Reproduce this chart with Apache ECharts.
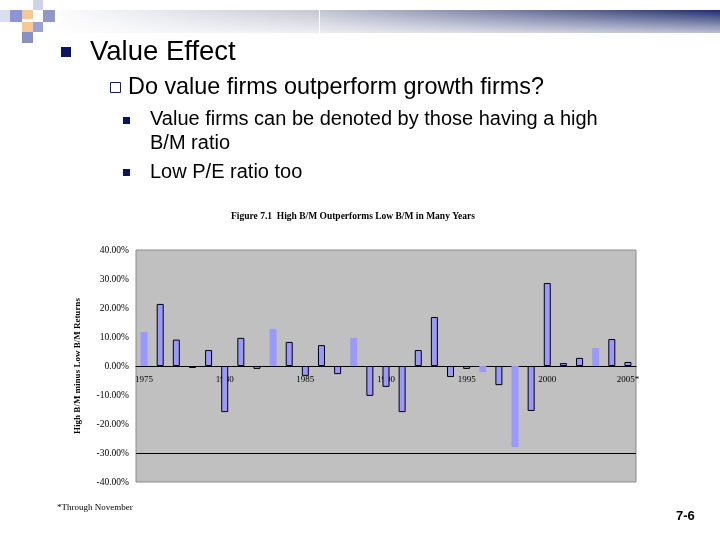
<!DOCTYPE html>
<html>
<head>
<meta charset="utf-8">
<script src="https://cdn.jsdelivr.net/npm/echarts@6/dist/echarts.min.js"></script>
<style>
html, body { margin: 0; padding: 0; background: #fff; }
#main { width: 720px; height: 540px; }
</style>
</head>
<body>
<div id="main"></div>
<script>
// years on the category axis
var years = ['1975','1976','1977','1978','1979','1980','1981','1982','1983','1984',
	'1985','1986','1987','1988','1989','1990','1991','1992','1993','1994',
	'1995','1996','1997','1998','1999','2000','2001','2002','2003','2004','2005*'];
// high B/M minus low B/M returns, percent
var spread = [11.7, 21.4, 9.1, -0.7, 5.5, -15.9, 9.7, -1.0, 12.8, 8.3,
	-3.4, 7.2, -2.8, 9.7, -10.3, -7.2, -15.9, 5.5, 16.9, -3.8,
	-1.0, -2.1, -6.6, -27.9, -15.5, 28.6, 1.0, 2.8, 6.2, 9.3, 1.4];
// bars drawn without outline in the picture
var plainBars = ['1975', '1983', '1988', '1996', '1998', '2003'];
var yTicks = [-40, -30, -20, -10, 0, 10, 20, 30, 40];

var serif = '"Liberation Serif", "Times New Roman", serif';
var sans = '"Liberation Sans", Arial, sans-serif';

var barData = [];
for (var i = 0; i < spread.length; i++) {
	var plain = plainBars.indexOf(years[i]) >= 0;
	barData.push({
		value: spread[i],
		itemStyle: { borderWidth: plain ? 0 : 1 }
	});
}

var myChart = echarts.init(document.getElementById('main'));

var gridTop = 250, gridBottom = 58, gridH = 540 - gridTop - gridBottom;

var option = {
	backgroundColor: '#ffffff',
	animation: false,
	title: {
		text: 'Figure 7.1  High B/M Outperforms Low B/M in Many Years',
		left: 348,
		top: 207,
		textAlign: 'center',
		textStyle: { fontFamily: serif, fontSize: 9.5, fontWeight: 'bold', color: '#000' }
	},
	grid: {
		left: 136,
		right: 84,
		top: gridTop,
		bottom: gridBottom,
		show: true,
		backgroundColor: '#c0c0c0',
		borderColor: '#8a8a8a',
		borderWidth: 1
	},
	xAxis: {
		type: 'category',
		data: years,
		// axis sits on the zero line (middle of the plot)
		offset: -gridH / 2,
		axisLine: { onZero: false, lineStyle: { color: '#000', width: 1 } },
		axisTick: { show: false },
		axisLabel: {
			interval: 4,
			margin: 9,
			fontFamily: serif,
			fontSize: 9,
			color: '#000'
		}
	},
	yAxis: {
		type: 'value',
		min: -40,
		max: 40,
		interval: 10,
		name: 'High B/M minus Low B/M Returns',
		nameLocation: 'middle',
		nameGap: 54,
		nameTextStyle: { fontFamily: serif, fontSize: 9, fontWeight: 'bold', color: '#000' },
		axisLine: { show: false },
		axisTick: { show: false },
		splitLine: { show: false },
		axisLabel: {
			margin: 7,
			fontFamily: serif,
			fontSize: 9.5,
			color: '#000',
			formatter: function (v) { return v.toFixed(2) + '%'; }
		}
	},
	series: [{
		type: 'bar',
		data: barData,
		barWidth: 7,
		itemStyle: { color: '#9999ff', borderColor: '#000', borderWidth: 1 },
		markLine: {
			silent: true,
			symbol: 'none',
			label: { show: false },
			lineStyle: { color: '#000', width: 1, type: 'solid' },
			data: [{ yAxis: yTicks[1] }]
		}
	}],
	graphic: [
		// header band
		{ type: 'rect', shape: { x: 45, y: 10, width: 675, height: 23 },
			style: { fill: new echarts.graphic.LinearGradient(0, 0, 1, 0, [
				{ offset: 0, color: '#ffffff' }, { offset: 0.4, color: '#c4c7d4' },
				{ offset: 1, color: '#1f2c6e' }]) } },
		{ type: 'rect', shape: { x: 45, y: 10, width: 675, height: 23 },
			style: { fill: new echarts.graphic.LinearGradient(0, 0, 0, 1, [
				{ offset: 0, color: 'rgba(255,255,255,0)' },
				{ offset: 1, color: 'rgba(255,255,255,0.7)' }]) } },
		{ type: 'rect', shape: { x: 319, y: 10, width: 1, height: 23 }, style: { fill: '#ffffff' } },
		// corner squares
		{ type: 'rect', shape: { x: 0, y: 10, width: 10, height: 12 }, style: { fill: '#dcdcf0' } },
		{ type: 'rect', shape: { x: 10, y: 10, width: 12, height: 12 }, style: { fill: '#8c94d8' } },
		{ type: 'rect', shape: { x: 22, y: 10, width: 11, height: 9 }, style: { fill: '#f8c890' } },
		{ type: 'rect', shape: { x: 33, y: 0, width: 10, height: 10 }, style: { fill: '#d0d2ec' } },
		{ type: 'rect', shape: { x: 43, y: 10, width: 12, height: 12 }, style: { fill: '#9098c8' } },
		{ type: 'rect', shape: { x: 22, y: 22, width: 11, height: 10 }, style: { fill: '#f8c890' } },
		{ type: 'rect', shape: { x: 33, y: 22, width: 10, height: 10 }, style: { fill: '#9aa0d8' } },
		{ type: 'rect', shape: { x: 22, y: 32, width: 11, height: 11 }, style: { fill: '#8890c8' } },
		// bullets and text
		{ type: 'rect', shape: { x: 61, y: 47, width: 10, height: 10 }, style: { fill: '#0a1464' } },
		{ type: 'text', x: 90, y: 52, style: { text: 'Value Effect', font: '27.5px ' + sans, fill: '#000', verticalAlign: 'middle' } },
		{ type: 'rect', shape: { x: 110.5, y: 82.5, width: 10, height: 10 }, style: { fill: 'none', stroke: '#1a1a60', lineWidth: 1 } },
		{ type: 'text', x: 128, y: 88, style: { text: 'Do value firms outperform growth firms?', font: '23.4px ' + sans, fill: '#000', verticalAlign: 'middle' } },
		{ type: 'rect', shape: { x: 123, y: 117, width: 7, height: 7 }, style: { fill: '#0a1464' } },
		{ type: 'text', x: 150, y: 119, style: { text: 'Value firms can be denoted by those having a high', font: '20px ' + sans, fill: '#000', verticalAlign: 'middle' } },
		{ type: 'text', x: 150, y: 143, style: { text: 'B/M ratio', font: '20px ' + sans, fill: '#000', verticalAlign: 'middle' } },
		{ type: 'rect', shape: { x: 123, y: 169, width: 7, height: 7 }, style: { fill: '#0a1464' } },
		{ type: 'text', x: 150, y: 172, style: { text: 'Low P/E ratio too', font: '20px ' + sans, fill: '#000', verticalAlign: 'middle' } },
		{ type: 'text', x: 57, y: 508, style: { text: '*Through November', font: '9px ' + serif, fill: '#000', verticalAlign: 'middle' } },
		{ type: 'text', x: 676, y: 516, style: { text: '7-6', font: 'bold 13px ' + sans, fill: '#000', verticalAlign: 'middle' } }
	]
};

myChart.setOption(option);
</script>
</body>
</html>
